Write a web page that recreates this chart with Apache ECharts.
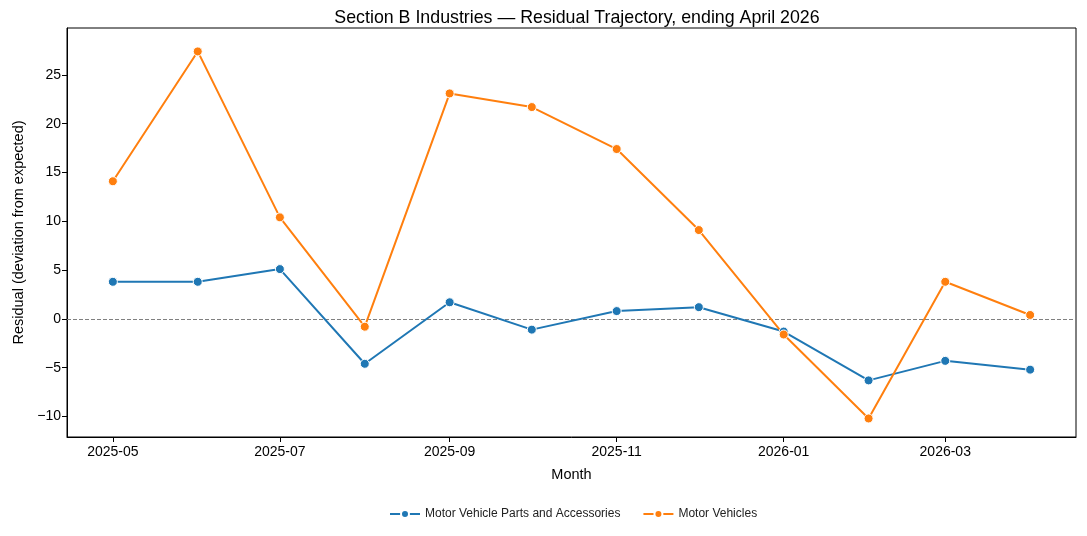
<!DOCTYPE html>
<html>
<head>
<meta charset="utf-8">
<script src="https://cdn.jsdelivr.net/npm/echarts@6/dist/echarts.min.js"></script>
<style>
  html, body { margin: 0; padding: 0; background: #fff; }
  #chart { width: 1087px; height: 536px; }
</style>
</head>
<body>
<div id="chart"></div>
<script>
// months (first day of each month)
const months = ["2025-05", "2025-06", "2025-07", "2025-08", "2025-09", "2025-10",
                "2025-11", "2025-12", "2026-01", "2026-02", "2026-03", "2026-04"];
const partsAccessories = [3.8, 3.8, 5.1, -4.6, 1.7, -1.1, 0.8, 1.2, -1.3, -6.3, -4.3, -5.2];
const motorVehicles = [14.1, 27.4, 10.4, -0.8, 23.1, 21.7, 17.4, 9.1, -1.6, -10.2, 3.8, 0.4];
const xTickLabels = ["2025-05", "2025-07", "2025-09", "2025-11", "2026-01", "2026-03"];
const yTicks = [-10, -5, 0, 5, 10, 15, 20, 25];

function toTs(m) {
  const [y, mo] = m.split("-").map(Number);
  return Date.UTC(y, mo - 1, 1);
}
const DAY = 86400000;
const xMin = toTs(months[0]) - 16.75 * DAY;
const xMax = toTs(months[months.length - 1]) + 16.75 * DAY;

const FONT = "Liberation Sans, Arial, sans-serif";

function makeSeries(name, values, color) {
  return {
    name: name,
    type: "line",
    data: months.map((m, i) => [toTs(m), values[i]]),
    symbol: "circle",
    symbolSize: 9,
    showSymbol: true,
    lineStyle: { color: color, width: 2 },
    itemStyle: { color: color, borderColor: "#fff", borderWidth: 1 },
    emphasis: { disabled: true },
    z: 3,
  };
}

const series = [
  makeSeries("Motor Vehicle Parts and Accessories", partsAccessories, "#1f77b4"),
  makeSeries("Motor Vehicles", motorVehicles, "#ff7f0e"),
];
// zero reference line
series[0].markLine = {
  silent: true,
  symbol: "none",
  label: { show: false },
  lineStyle: { color: "#808080", type: [4, 2], width: 1 },
  data: [{ yAxis: 0 }],
  z: 1,
};

const chart = echarts.init(document.getElementById("chart"));
chart.setOption({
  animation: false,
  textStyle: { fontFamily: FONT },
  title: {
    text: "Section B Industries \u2014 Residual Trajectory, ending April 2026",
    left: 572,
    textAlign: "center",
    top: 4,
    textStyle: { fontSize: 17.8, fontWeight: "normal", color: "#000", fontFamily: FONT },
  },
  grid: {
    left: 67, right: 11, top: 28, bottom: 99,
    show: true, borderColor: "#000", borderWidth: 1,
  },
  legend: {
    bottom: 11,
    left: 384,
    itemWidth: 30,
    itemHeight: 10,
    itemGap: 22,
    textStyle: { fontSize: 12, color: "#222", fontFamily: FONT },
    data: series.map(s => s.name),
  },
  xAxis: {
    type: "value",
    min: xMin,
    max: xMax,
    name: "Month",
    nameLocation: "middle",
    nameGap: 30,
    nameTextStyle: { fontSize: 14.5, color: "#000" },
    splitLine: { show: false },
    axisLine: { show: true, onZero: false, lineStyle: { color: "#000" } },
    axisTick: { show: true, length: 5, lineStyle: { color: "#000", width: 1 },
                customValues: xTickLabels.map(toTs) },
    axisLabel: {
      customValues: xTickLabels.map(toTs),
      fontSize: 14, color: "#000", margin: 8,
      formatter: v => {
        const d = new Date(v);
        return d.getUTCFullYear() + "-" + String(d.getUTCMonth() + 1).padStart(2, "0");
      },
    },
  },
  yAxis: {
    type: "value",
    min: -12.1,
    max: 29.8,
    name: "Residual (deviation from expected)",
    nameLocation: "middle",
    nameGap: 41,
    nameTextStyle: { fontSize: 14.5, color: "#000" },
    splitLine: { show: false },
    axisLine: { show: true, lineStyle: { color: "#000" } },
    axisTick: { show: true, length: 5, lineStyle: { color: "#000", width: 1 }, customValues: yTicks },
    axisLabel: {
      customValues: yTicks,
      fontSize: 14, color: "#000", margin: 6,
      formatter: v => String(v).replace("-", "\u2212"),
    },
  },
  series: series,
});
</script>
</body>
</html>
